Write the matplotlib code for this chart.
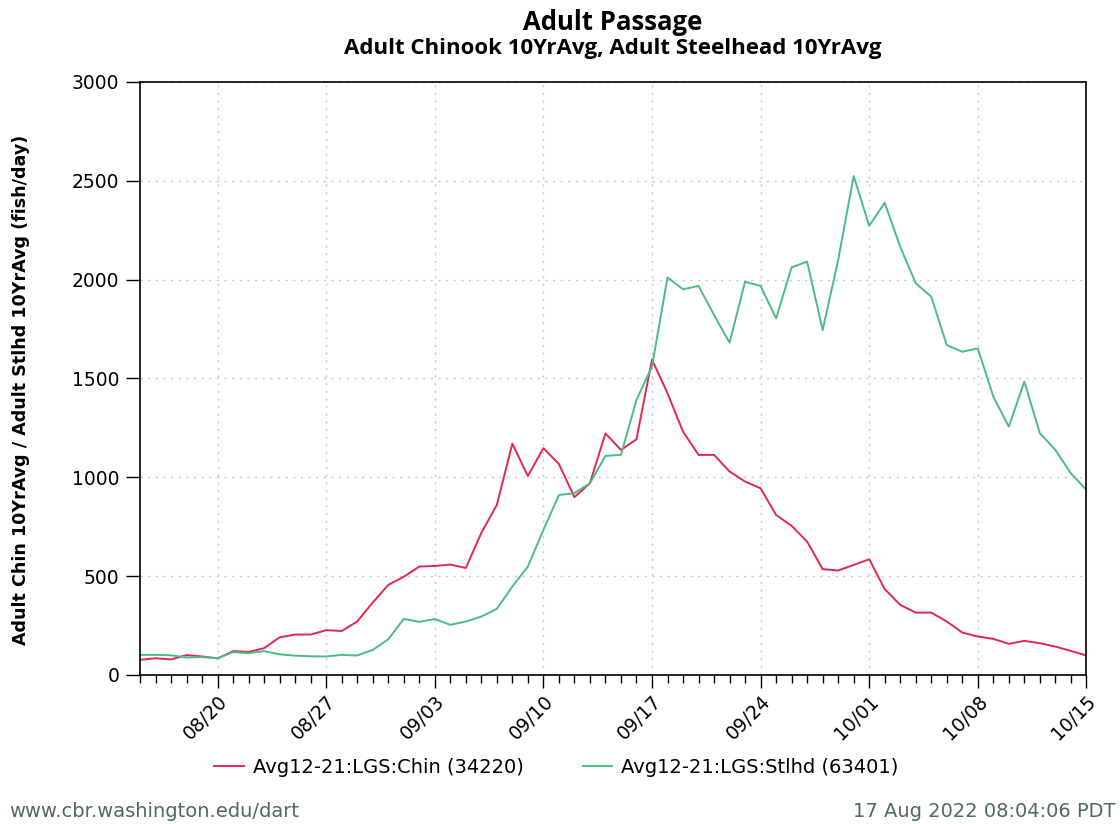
import pandas as pd
import matplotlib
matplotlib.use("Agg")
import matplotlib.pyplot as plt
import matplotlib.dates as mdates

# daily 10-yr average passage, 08/15 .. 10/15
fechas = pd.date_range("2022-08-15", "2022-10-15", freq="D")

chinook = [76, 84, 78, 100, 93, 83, 120, 116, 135, 190,
           204, 204, 226, 222, 270, 366, 455, 496, 548, 551,
           558, 541, 718, 860, 1170, 1006, 1147, 1067, 899, 970,
           1222, 1138, 1192, 1595, 1425, 1231, 1113, 1113, 1029, 978,
           944, 809, 754, 674, 535, 528, 556, 585, 434, 354,
           315, 315, 270, 214, 194, 182, 157, 172, 160, 143,
           121, 98]

steelhead = [101, 101, 99, 88, 90, 84, 115, 110, 120, 104,
             97, 94, 93, 101, 98, 126, 180, 283, 268, 283,
             253, 270, 295, 334, 447, 548, 733, 910, 919, 970,
             1108, 1113, 1391, 1560, 2011, 1951, 1968, 1821, 1681, 1989,
             1968, 1804, 2062, 2091, 1745, 2099, 2524, 2272, 2389, 2166,
             1981, 1914, 1669, 1635, 1652, 1408, 1256, 1484, 1223, 1138,
             1020, 936]

etiquetas = ["Avg12-21:LGS:Chin (34220)", "Avg12-21:LGS:Stlhd (63401)"]
colores = ["#e2284f", "#4cbb86"]

fig = plt.figure(figsize=(11.2, 8.24), dpi=100)
ax = fig.add_axes([0.125, 0.181, 0.845, 0.7195])

ax.plot(fechas, chinook, color=colores[0], lw=1.4, label=etiquetas[0])
ax.plot(fechas, steelhead, color=colores[1], lw=1.4, label=etiquetas[1])

ax.set_xlim(fechas[0], fechas[-1])
ax.set_ylim(0, 3000)
ax.set_yticks(range(0, 3001, 500))

ticks = pd.date_range("2022-08-20", "2022-10-15", freq="7D")
ax.set_xticks(ticks)
ax.set_xticklabels([t.strftime("%m/%d") for t in ticks])
ax.xaxis.set_minor_locator(mdates.DayLocator())

for lab in ax.get_xticklabels():
    lab.set_rotation(45)
    lab.set_ha("right")
    lab.set_va("top")
    lab.set_rotation_mode("anchor")

ax.tick_params(axis="x", which="major", length=9, width=1, labelsize=13.5, pad=3)
ax.tick_params(axis="x", which="minor", length=6, width=1)
ax.tick_params(axis="y", length=10, width=1, labelsize=13.5, pad=5)
ax.grid(True, which="major", color="#c8c8c8", linestyle=(0, (1.5, 4)), lw=1)
for s in ax.spines.values():
    s.set_linewidth(1.2)

ax.set_ylabel("Adult Chin 10YrAvg / Adult Stlhd 10YrAvg (fish/day)",
              fontsize=12.6, fontweight="bold")
ax.yaxis.set_label_coords(-0.116, 0.48)

fig.text(0.547, 0.963, "Adult Passage", ha="center", fontsize=18.5,
         fontweight="bold", family="Open Sans")
fig.text(0.547, 0.934, "Adult Chinook 10YrAvg, Adult Steelhead 10YrAvg",
         ha="center", fontsize=16, fontweight="bold", family="Open Sans")

fig.legend(loc="center", bbox_to_anchor=(0.497, 0.069), ncol=2, frameon=False,
           fontsize=14, handlelength=1.5, handletextpad=0.5, columnspacing=3)

fig.text(0.008, 0.009, "www.cbr.washington.edu/dart", fontsize=14, color="#4e6b5c")
fig.text(0.996, 0.009, "17 Aug 2022 08:04:06 PDT", ha="right", fontsize=14, color="#4e6b5c")

fig.savefig("out.png", dpi=100)
